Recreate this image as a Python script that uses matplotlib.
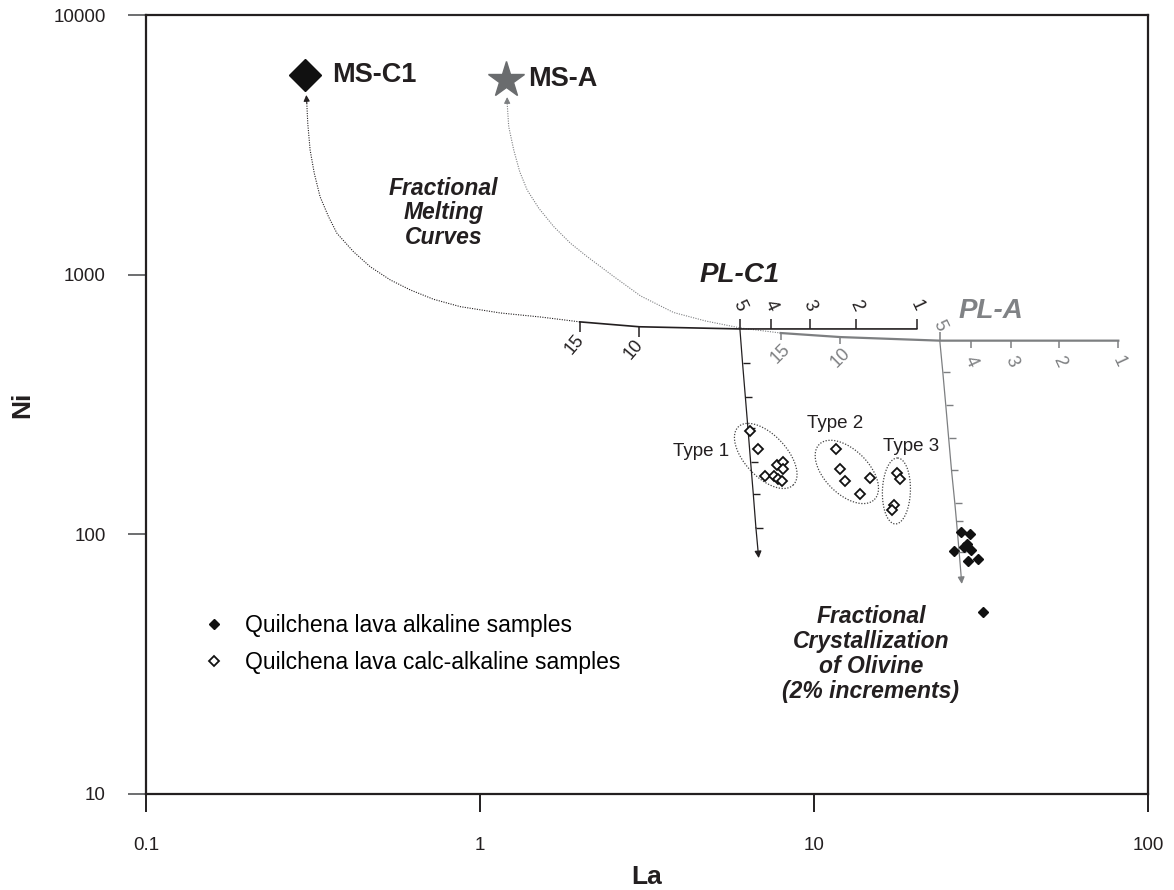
import numpy as np
import matplotlib
matplotlib.use('Agg')
import matplotlib.pyplot as plt

plt.rcParams['font.family'] = ['Liberation Sans', 'DejaVu Sans']

INK = '#231f20'
GREY = '#7d7f81'

# sample data (La ppm, Ni ppm)
alk_la = [27.5, 29.3, 28.7, 29.5, 26.3, 29.0, 30.9, 28.2, 32.1]
alk_ni = [102.4, 100.1, 91.6, 87.1, 86.5, 79.0, 80.6, 89.0, 50.4]

type1_la = [6.43, 6.80, 7.77, 8.10, 8.08, 7.15, 7.60, 7.82, 8.01]
type1_ni = [250, 213, 185, 190, 178, 168, 168, 163, 161]
type2_la = [11.67, 11.95, 12.41, 14.73, 13.72]
type2_ni = [213, 178, 160, 165, 142.5]
type3_la = [17.71, 18.08, 17.38, 17.17]
type3_ni = [172, 164, 130, 124]

# mantle sources
ms_c1 = (0.30, 5875)
ms_a = (1.20, 5600)

# fractional melting paths, melt end first, up to the source
melt_c1_la = [1.99, 1.518, 1.151, 0.873, 0.726, 0.619, 0.539, 0.469, 0.418, 0.373,
              0.352, 0.332, 0.319, 0.310, 0.305, 0.303, 0.302]
melt_c1_ni = [658, 687, 712, 753, 804, 873, 954, 1073, 1226, 1443,
              1672, 1997, 2458, 3020, 3828, 4571, 4920]
melt_a_la = [7.95, 6.035, 4.74, 3.799, 3.026, 2.511, 2.094, 1.866, 1.664, 1.500,
             1.384, 1.315, 1.262, 1.219, 1.206, 1.206]
melt_a_ni = [596, 623, 663, 715, 828, 985, 1173, 1321, 1530, 1802,
             2119, 2492, 3020, 3715, 4571, 4830]

# partial melt compositions with % melting
pl_pct = ['15', '10', '5', '4', '3', '2', '1']
pl_c1_la = [1.99, 3.0, 6.0, 7.42, 9.7, 13.4, 20.3]
pl_c1_ni = [658, 630, 618, 618, 618, 618, 618]
pl_a_la = [7.95, 12.0, 23.8, 29.5, 38.9, 54.2, 81.5]
pl_a_ni = [596, 575, 557, 557, 557, 557, 557]

# olivine fractionation from the 5% melts, 2% steps
fc_c1_la = [6.0, 6.11, 6.23, 6.34, 6.46, 6.58, 6.70, 6.83]
fc_c1_ni = [618, 457, 338, 257, 190, 143, 106, 81]
fc_a_la = [23.8, 24.3, 24.8, 25.3, 25.8, 26.4, 26.7, 27.2, 27.7]
fc_a_ni = [557, 422, 315, 235, 177, 132, 112.6, 85.5, 64.4]

fig = plt.figure(figsize=(11.74, 8.9), dpi=100)
ax = fig.add_axes([146 / 1174, 96 / 890, 1002 / 1174, 779 / 890])
ax.set_xscale('log')
ax.set_yscale('log')
ax.set_xlim(0.1, 100)
ax.set_ylim(10, 10000)

for s in ax.spines.values():
    s.set_linewidth(1.6)
    s.set_color(INK)
ax.set_xticks([0.1, 1, 10, 100], ['0.1', '1', '10', '100'])
ax.set_yticks([10, 100, 1000, 10000], ['10', '100', '1000', '10000'])
ax.minorticks_off()
ax.tick_params(axis='x', length=13, width=1.4, color=INK, pad=18, labelsize=13.5, labelcolor=INK)
ax.tick_params(axis='y', length=13, width=1.4, color='#6d6e70', pad=16, labelsize=13.5, labelcolor=INK)
ax.set_xlabel('La', fontsize=19, fontweight='bold', color=INK, labelpad=8)
ax.set_ylabel('Ni', fontsize=19, fontweight='bold', color=INK, labelpad=14)

tick_up = [(0, 0), (0, 1)]
tick_dn = [(0, 0), (0, -1)]
tick_rt = [(0, 0), (1, 0)]

# melting curves (dotted) with arrows to the sources
for la, ni, c in [(melt_c1_la, melt_c1_ni, INK), (melt_a_la, melt_a_ni, GREY)]:
    ax.plot(la[:-1], ni[:-1], ls=(0, (1, 1.2)), lw=0.8, color=c)
    ax.annotate('', xy=(la[-1], ni[-1]), xytext=(la[-2], ni[-2]),
                arrowprops=dict(arrowstyle='-|>', color=c, lw=0.8,
                                mutation_scale=9, shrinkA=0, shrinkB=0))

# melt lines with % ticks
ax.plot(pl_c1_la, pl_c1_ni, color=INK, lw=1.2)
ax.plot(pl_a_la, pl_a_ni, color=GREY, lw=1.6)
for i, p in enumerate(pl_pct):
    below = i < 2
    ax.plot(pl_c1_la[i], pl_c1_ni[i], marker=tick_dn if below else tick_up,
            ms=15, mew=1.1, color=INK)
    ax.annotate(p, (pl_c1_la[i], pl_c1_ni[i]), xytext=(-4, -16) if below else (0, 17),
                textcoords='offset points', ha='center', va='center',
                rotation=50 if below else -65, fontsize=13, color=INK)
    above = i == 2
    ax.plot(pl_a_la[i], pl_a_ni[i], marker=tick_up if above else tick_dn,
            ms=13 if above else 10, mew=1.1, color=GREY)
    ax.annotate(p, (pl_a_la[i], pl_a_ni[i]), xytext=(0, 11) if above else (0, -15),
                textcoords='offset points', ha='center', va='center',
                rotation=-65 if not i < 2 else 45, fontsize=13, color=GREY)

# olivine fractionation vectors
for la, ni, c in [(fc_c1_la, fc_c1_ni, INK), (fc_a_la, fc_a_ni, GREY)]:
    ax.plot(la[:-1], ni[:-1], color=c, lw=0.9)
    ax.plot(la[1:-1], ni[1:-1], ls='none', marker=tick_rt, ms=10, mew=1.0, color=c)
    ax.annotate('', xy=(la[-1], ni[-1]), xytext=(la[-2], ni[-2]),
                arrowprops=dict(arrowstyle='-|>', color=c, lw=0.9,
                                mutation_scale=10, shrinkA=0, shrinkB=0))

# sources
ax.plot(*ms_c1, marker='D', ms=16, color='#111111', ls='none')
ax.plot(*ms_a, marker='*', ms=27, color='#6a6c6e', mec='#6a6c6e', ls='none')
ax.text(0.361, 5875, 'MS-C1', fontsize=19.5, fontweight='bold', color=INK, va='center')
ax.text(1.39, 5670, 'MS-A', fontsize=19.5, fontweight='bold', color=INK, va='center')

# samples
ax.plot(alk_la, alk_ni, ls='none', marker='D', ms=5.5, color='#111111',
        label='Quilchena lava alkaline samples')
ax.plot(type1_la + type2_la + type3_la, type1_ni + type2_ni + type3_ni, ls='none',
        marker='D', ms=4.8, mfc='white', mec='#111111', mew=1.3,
        label='Quilchena lava calc-alkaline samples')


def ring(la, ni, a, b, ang):
    cx, cy = ax.transData.transform((la, ni))
    t = np.linspace(0, 2 * np.pi, 240)
    r = np.deg2rad(ang)
    px = cx + a * np.cos(t) * np.cos(r) - b * np.sin(t) * np.sin(r)
    py = cy + a * np.cos(t) * np.sin(r) + b * np.sin(t) * np.cos(r)
    pts = ax.transData.inverted().transform(np.column_stack([px, py]))
    ax.plot(pts[:, 0], pts[:, 1], ls=(0, (1, 1.3)), lw=0.9, color='#444444')


ring(7.17, 200.4, 40, 21, -47)
ring(12.54, 173.9, 39, 22, -45)
ring(17.65, 146.9, 33, 14, 88)

ax.text(4.58, 207.6, 'Type 1', fontsize=13.5, ha='center', va='center', color=INK)
ax.text(11.54, 266.2, 'Type 2', fontsize=13.5, ha='center', va='center', color=INK)
ax.text(19.5, 217, 'Type 3', fontsize=13.5, ha='center', va='center', color=INK)

ax.text(5.99, 997, 'PL-C1', fontsize=20, fontweight='bold', style='italic',
        ha='center', va='center', color=INK)
ax.text(33.9, 725, 'PL-A', fontsize=20, fontweight='bold', style='italic',
        ha='center', va='center', color='#808285')
ax.text(0.777, 1728, 'Fractional\nMelting\nCurves', fontsize=16.5, fontweight='bold',
        style='italic', ha='center', va='center', color=INK, linespacing=1.1)
ax.text(14.8, 34.6, 'Fractional\nCrystallization\nof Olivine\n(2% increments)',
        fontsize=16.5, fontweight='bold', style='italic', ha='center', va='center',
        color=INK, linespacing=1.1)

ax.legend(loc='upper left', bbox_to_anchor=(0.036, 0.257), frameon=False,
          fontsize=16.5, handlelength=1.0, handletextpad=0.85, labelspacing=0.58,
          markerscale=1.0)

fig.savefig('out.png', dpi=100)
